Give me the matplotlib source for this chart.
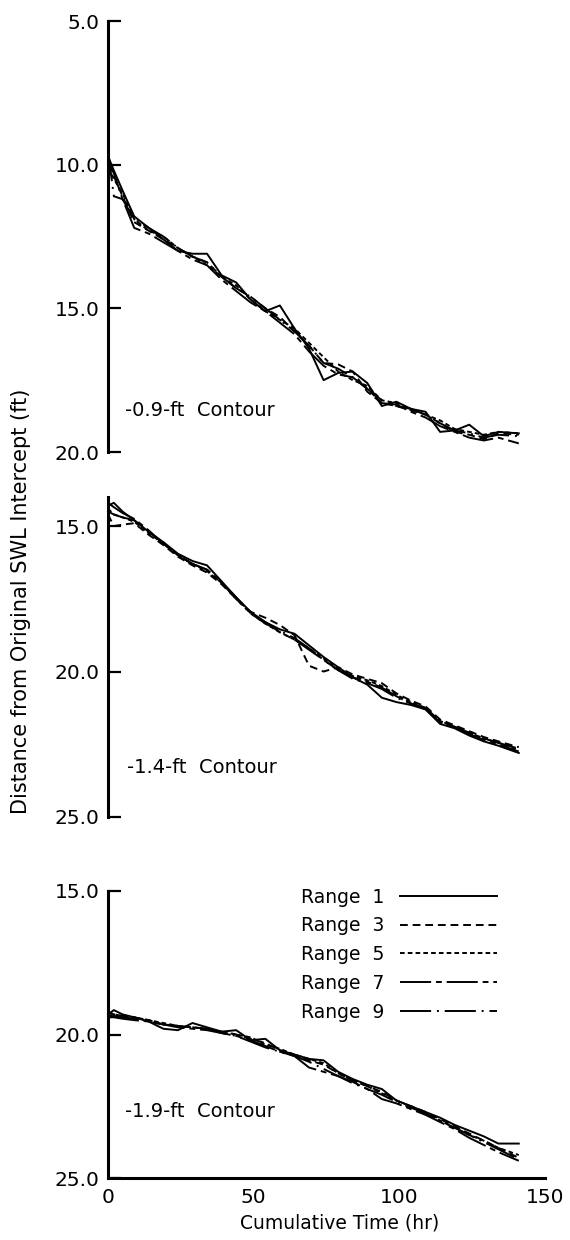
import matplotlib
matplotlib.use("Agg")
from matplotlib import pyplot as plt

# cumulative time (hr), shared by every range in every panel
TIME = [0, 2, 5, 9, 14, 19, 24, 29, 34, 39, 44, 49, 54, 59, 64,
        69, 74, 79, 84, 89, 94, 99, 104, 109, 114, 119, 124, 129, 134, 141]

RANGES = ["1", "3", "5", "7", "9"]

# -0.9-ft contour
C09_R1 = [9.7, 10.2, 10.9, 11.8, 12.2, 12.6, 13.0, 13.1, 13.1, 13.85, 14.1, 14.7, 15.1, 14.9, 15.7,
          16.4, 17.5, 17.25, 17.2, 17.6, 18.4, 18.25, 18.5, 18.6, 19.3, 19.25, 19.05, 19.45, 19.3, 19.35]
C09_R3 = [10.0, 10.4, 11.1, 12.0, 12.3, 12.6, 12.9, 13.2, 13.4, 13.9, 14.3, 14.6, 15.0, 15.3, 15.8,
          16.3, 16.9, 16.95, 17.2, 17.9, 18.3, 18.4, 18.55, 18.7, 19.0, 19.3, 19.4, 19.55, 19.35, 19.4]
C09_R5 = [10.1, 10.5, 11.0, 11.9, 12.3, 12.5, 12.9, 13.2, 13.5, 13.9, 14.2, 14.7, 15.1, 15.4, 15.7,
          16.2, 16.7, 17.2, 17.5, 17.7, 18.2, 18.3, 18.5, 18.7, 18.9, 19.2, 19.3, 19.4, 19.3, 19.35]
C09_R7 = [9.9, 10.3, 11.2, 12.2, 12.4, 12.7, 13.0, 13.3, 13.5, 14.0, 14.4, 14.8, 15.1, 15.5, 15.9,
          16.5, 17.0, 17.3, 17.4, 17.8, 18.3, 18.35, 18.6, 18.8, 19.1, 19.3, 19.5, 19.6, 19.5, 19.7]
C09_R9 = [9.5, 11.1, 11.2, 11.9, 12.2, 12.5, 12.9, 13.2, 13.4, 13.9, 14.3, 14.6, 15.0, 15.4, 15.8,
          16.3, 16.9, 17.1, 17.4, 17.8, 18.2, 18.4, 18.5, 18.7, 19.0, 19.25, 19.35, 19.5, 19.4, 19.45]

# -1.4-ft contour
C14_R1 = [14.3, 14.2, 14.5, 14.8, 15.2, 15.55, 15.95, 16.2, 16.35, 16.9, 17.45, 17.95, 18.3, 18.55, 18.7,
          19.1, 19.5, 19.85, 20.2, 20.45, 20.9, 21.05, 21.15, 21.3, 21.8, 21.95, 22.2, 22.4, 22.55, 22.8]
C14_R3 = [14.6, 15.0, 14.95, 14.9, 15.3, 15.65, 16.05, 16.35, 16.6, 17.0, 17.5, 17.95, 18.15, 18.4, 18.75,
          19.8, 20.0, 19.85, 20.1, 20.25, 20.4, 20.75, 21.0, 21.2, 21.65, 21.85, 22.05, 22.25, 22.4, 22.6]
C14_R5 = [14.4, 14.6, 14.7, 14.85, 15.25, 15.6, 16.0, 16.3, 16.55, 16.95, 17.5, 18.0, 18.35, 18.65, 18.9,
          19.2, 19.55, 19.9, 20.15, 20.3, 20.5, 20.8, 21.05, 21.25, 21.7, 21.9, 22.1, 22.3, 22.45, 22.7]
C14_R7 = [14.2, 14.35, 14.55, 14.75, 15.15, 15.6, 16.0, 16.3, 16.5, 16.95, 17.45, 18.0, 18.3, 18.65, 18.9,
          19.25, 19.6, 19.95, 20.2, 20.35, 20.55, 20.85, 21.1, 21.3, 21.75, 21.95, 22.15, 22.35, 22.5, 22.75]
C14_R9 = [14.5, 14.6, 14.7, 14.8, 15.2, 15.6, 16.0, 16.3, 16.5, 16.95, 17.5, 18.0, 18.35, 18.6, 18.85,
          19.2, 19.6, 19.95, 20.25, 20.4, 20.6, 20.9, 21.1, 21.25, 21.7, 21.9, 22.1, 22.3, 22.45, 22.65]

# -1.9-ft contour
C19_R1 = [19.3, 19.15, 19.3, 19.4, 19.55, 19.8, 19.85, 19.6, 19.75, 19.9, 19.85, 20.2, 20.15, 20.55, 20.7,
          20.85, 20.9, 21.3, 21.55, 21.75, 21.9, 22.3, 22.5, 22.7, 22.9, 23.15, 23.35, 23.55, 23.8, 23.8]
C19_R3 = [19.2, 19.3, 19.35, 19.4, 19.5, 19.65, 19.7, 19.75, 19.8, 19.9, 20.0, 20.15, 20.3, 20.55, 20.7,
          20.9, 21.05, 21.35, 21.6, 21.8, 22.0, 22.3, 22.5, 22.7, 22.95, 23.2, 23.45, 23.7, 23.95, 24.3]
C19_R5 = [19.35, 19.3, 19.35, 19.4, 19.5, 19.6, 19.7, 19.75, 19.8, 19.9, 20.0, 20.1, 20.35, 20.5, 20.7,
          20.85, 21.0, 21.35, 21.6, 21.8, 22.05, 22.3, 22.5, 22.75, 23.0, 23.25, 23.5, 23.7, 23.95, 24.2]
C19_R7 = [19.4, 19.35, 19.4, 19.45, 19.55, 19.65, 19.75, 19.8, 19.85, 19.95, 20.05, 20.2, 20.4, 20.6, 20.75,
          21.15, 21.3, 21.45, 21.65, 21.9, 22.25, 22.4, 22.6, 22.8, 23.05, 23.3, 23.6, 23.85, 24.1, 24.4]
C19_R9 = [19.4, 19.4, 19.45, 19.5, 19.55, 19.65, 19.7, 19.75, 19.8, 19.95, 20.05, 20.25, 20.45, 20.6, 20.75,
          20.95, 21.2, 21.45, 21.7, 21.9, 22.1, 22.35, 22.55, 22.75, 23.0, 23.25, 23.5, 23.75, 24.0, 24.35]

PANELS = [
	("-0.9-ft  Contour", (20.0, 5.0), [5, 10, 15, 20], [C09_R1, C09_R3, C09_R5, C09_R7, C09_R9]),
	("-1.4-ft  Contour", (25.0, 14.0), [15, 20, 25], [C14_R1, C14_R3, C14_R5, C14_R7, C14_R9]),
	("-1.9-ft  Contour", (25.0, 15.0), [15, 20, 25], [C19_R1, C19_R3, C19_R5, C19_R7, C19_R9]),
]
LABEL_POS = [(5.8, 18.55), (6.5, 23.3), (5.8, 22.7)]

STYLES = ["-", (0, (4, 2.5)), (0, (2.4, 1.6)), (0, (16, 2.5, 3, 2.5)), (0, (16, 3, 1, 3))]

plt.rcParams["font.family"] = ["DejaVu Sans"]

W, H = 570, 1240
fig = plt.figure(figsize=(W / 100, H / 100), dpi=100)

# pixel boxes of each axes: (top, bottom)
BOXES = [(21, 452), (497, 817), (891, 1178)]
X0, X1 = 108, 545

axes = []
for i, ((label, ylim, yticks, series), (top, bottom)) in enumerate(zip(PANELS, BOXES)):
	ax = fig.add_axes([X0 / W, (H - bottom) / H, (X1 - X0) / W, (bottom - top) / H])
	axes.append(ax)
	for values, ls, rng in zip(series, STYLES, RANGES):
		ax.plot(TIME, values, color="black", lw=1.4, linestyle=ls, label=f"Range  {rng}")
	ax.set_xlim(0, 150)
	ax.set_ylim(*ylim)
	for s in ("top", "right"):
		ax.spines[s].set_visible(False)
	ax.spines["left"].set_linewidth(2.2)
	ax.set_yticks(yticks, labels=[f"{t:.1f}" for t in yticks])
	ax.tick_params(axis="y", direction="in", length=9, width=1.6, pad=6, labelsize=14.5)
	ax.text(*LABEL_POS[i], label, fontsize=14, va="center", ha="left")
	if i < 2:
		ax.spines["bottom"].set_visible(False)
		ax.set_xticks([])
	else:
		ax.spines["bottom"].set_linewidth(2.2)
		ax.set_xticks([0, 50, 100, 150], labels=["0", "50", "100", "150"])
		ax.tick_params(axis="x", length=0, pad=7, labelsize=14.5)
		ax.set_xlabel("Cumulative Time (hr)", fontsize=13.5)
		ax.xaxis.set_label_coords(0.531, -0.125)
		ax.legend(loc="upper left", bbox_to_anchor=(0.442, 1.012), markerfirst=False, frameon=False,
			handlelength=5.2, handletextpad=0.8, labelspacing=0.52, borderpad=0, borderaxespad=0,
			fontsize=13.5)

fig.text(21 / W, (H - 601) / H, "Distance from Original SWL Intercept (ft)", rotation=90,
	ha="center", va="center", fontsize=15)

plt.savefig("out.png", dpi=100)
